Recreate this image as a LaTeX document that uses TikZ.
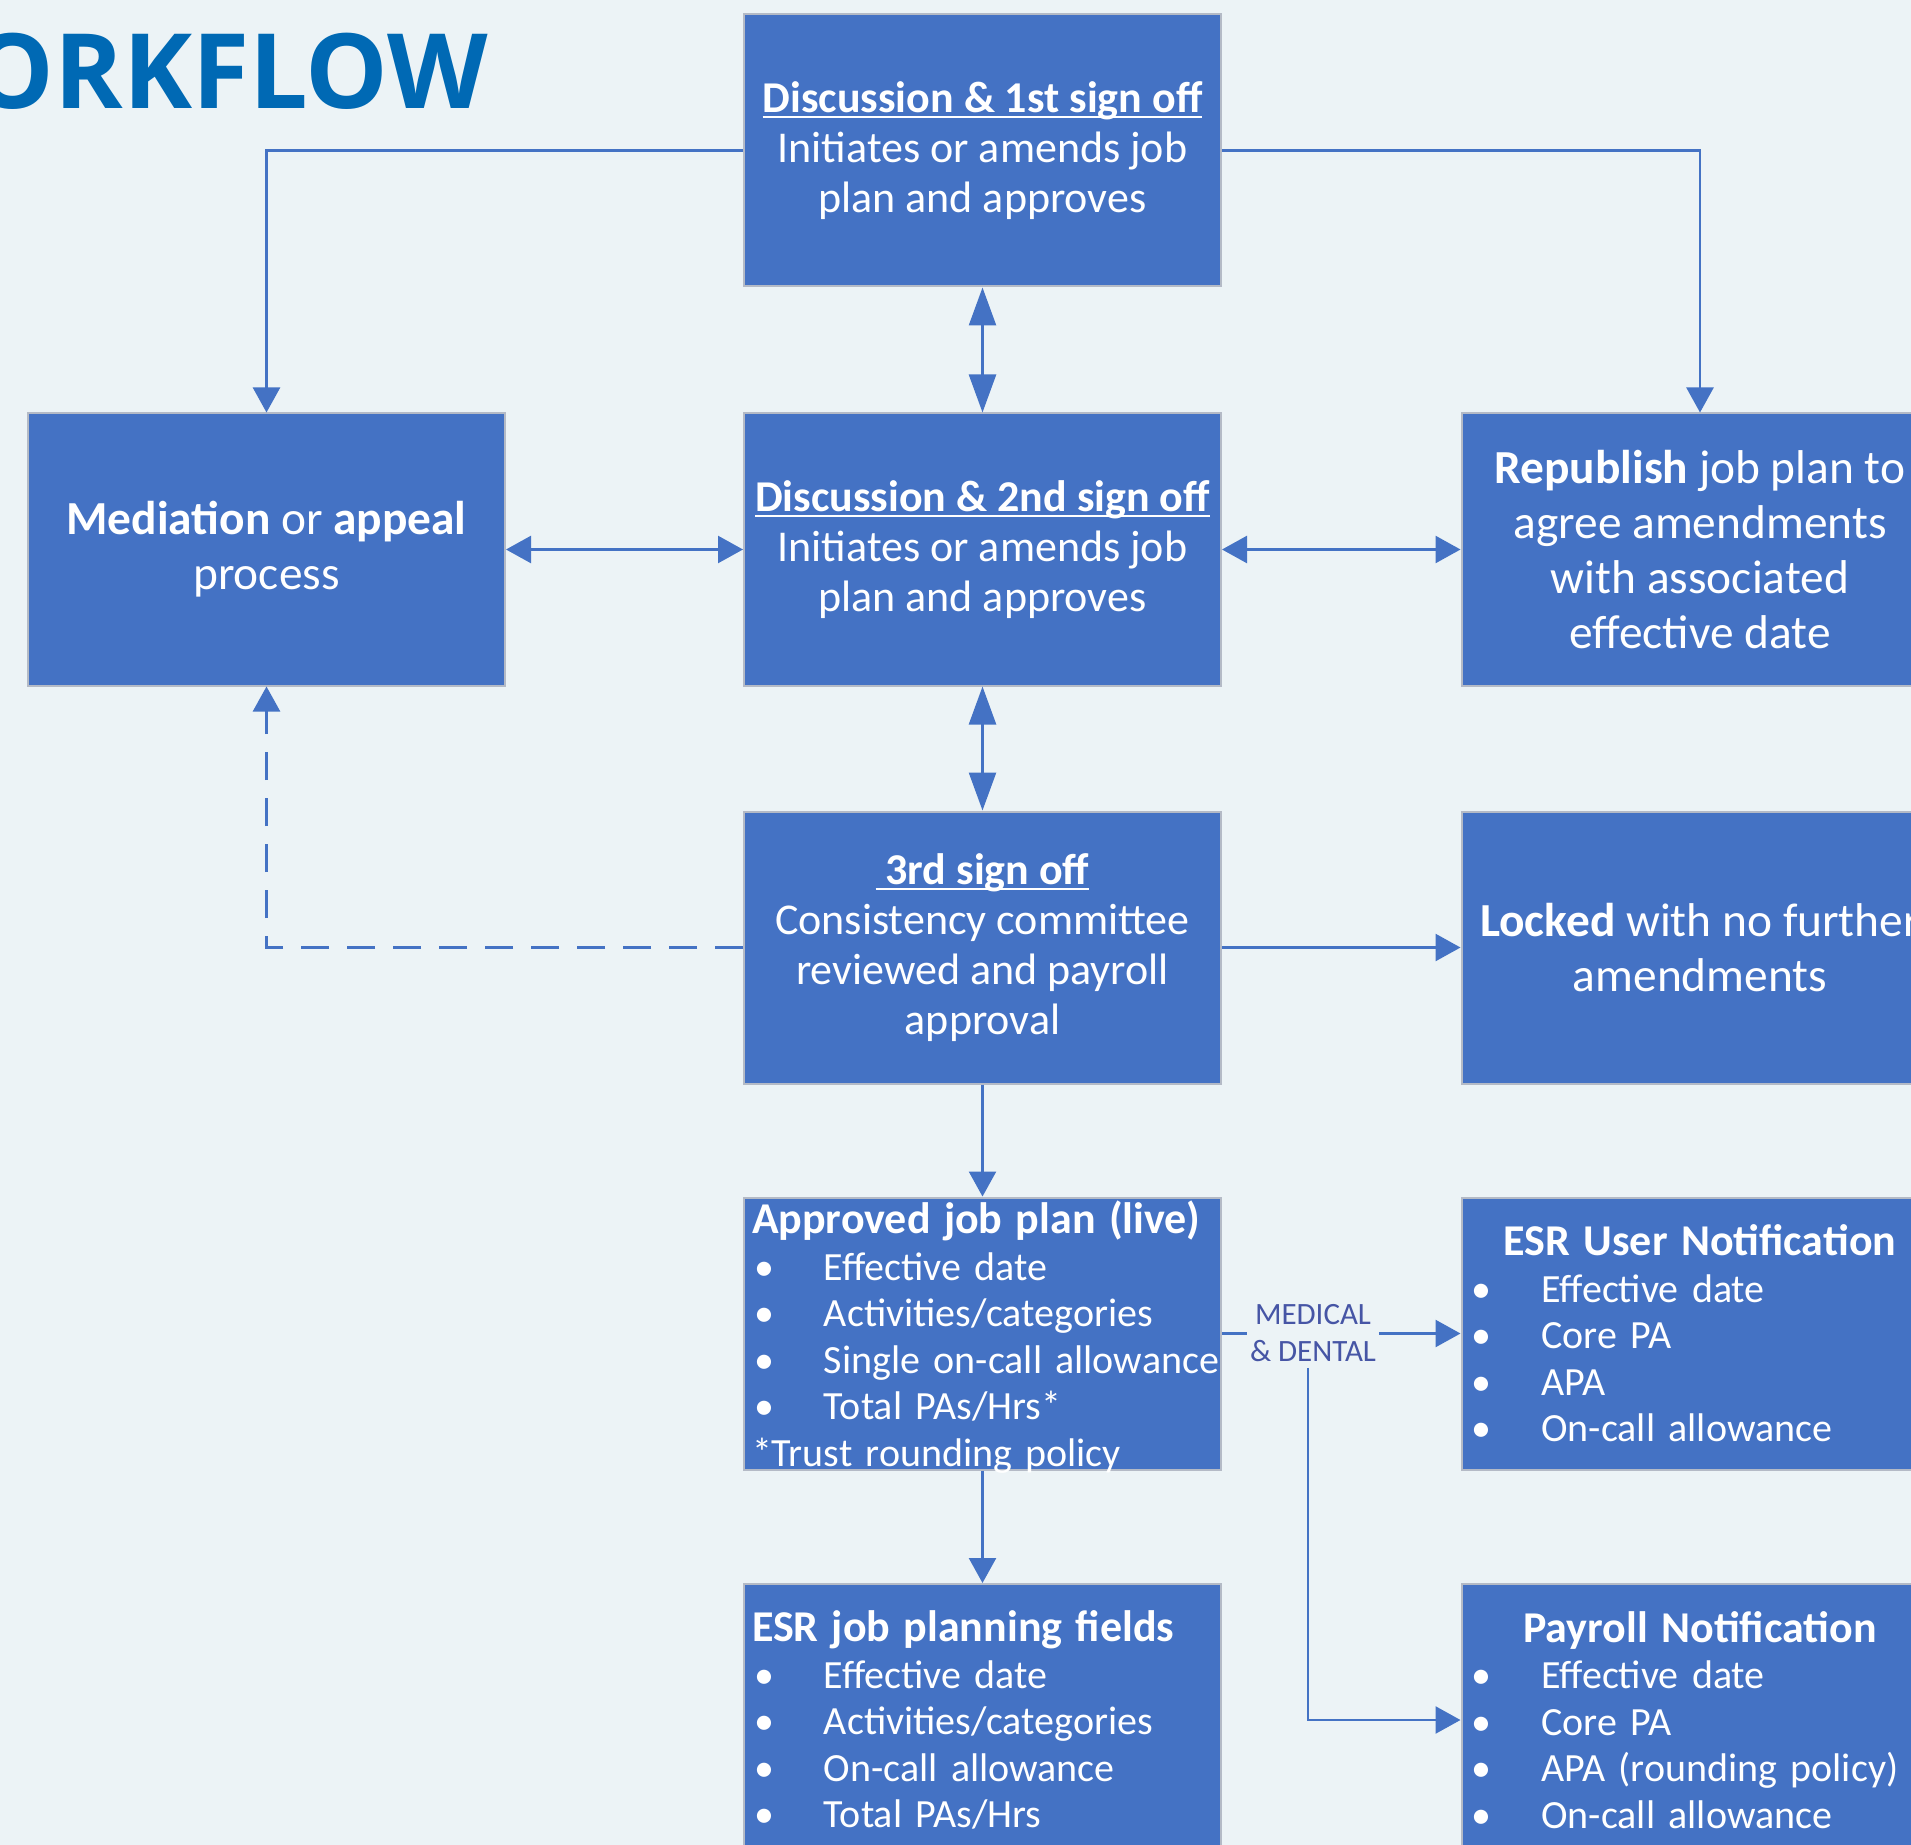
\documentclass[tikz,border=0pt]{standalone}
\usepackage{fontspec}
\setmainfont{Carlito}
\newfontfamily\titlefont{Open Sans}
\usetikzlibrary{arrows.meta}

\definecolor{pagebg}{RGB}{236,243,246}
\definecolor{boxblue}{RGB}{68,114,196}
\definecolor{boxedge}{RGB}{180,186,198}
\definecolor{titleblue}{RGB}{0,105,180}
\definecolor{lblblue}{RGB}{70,85,165}

\hfuzz=100pt
\newsavebox\hdrbox
\newcommand{\hdr}[1]{\sbox\hdrbox{\bfseries #1}\rlap{\usebox\hdrbox}\rule[-2.75pt]{\wd\hdrbox}{1.1pt}}
\newcommand{\bul}[1]{\makebox[36pt][l]{\hspace{1pt}\textbullet}\mbox{#1}}
\newcommand{\listhead}[1]{{\fontsize{22}{24}\selectfont\bfseries #1}}

\tikzset{every picture/.style={line width=0.75pt}}
\tikzset{
  blockbox/.style={draw=boxedge, line width=1pt, fill=boxblue, text=white,
    minimum width=238.5pt, minimum height=136pt, align=center, inner sep=4pt},
  signbox/.style={blockbox, font=\fontsize{22}{25}\selectfont},
  plainbox/.style={blockbox, font=\fontsize{23.7}{27.5}\selectfont},
  listbox/.style={blockbox, align=left, text width=230.5pt, inner ysep=0pt,
    font=\fontsize{20}{23.25}\selectfont},
  conn/.style={draw=boxblue, line width=1.25pt,
    >={Triangle[length=12.5pt,width=13.5pt]}},
  tall/.style={>={Triangle[length=19pt,width=13.5pt]}, <->},
  medlabel/.style={fill=pagebg, text=lblblue, align=center, inner xsep=1pt,
    inner ysep=2.5pt, font=\fontsize{15.5}{18.5}\selectfont}
}

\begin{document}
\begin{tikzpicture}[x=0.5pt,y=0.5pt,yscale=-1,xscale=1]
\path[use as bounding box, fill=pagebg] (0,0) rectangle (1911,1845);
\clip (0,0) rectangle (1911,1845);

% Text Node
\node[anchor=base east, inner sep=0pt, text=titleblue,
  font=\titlefont\fontsize{52}{52}\selectfont\bfseries] (wftitle) at (489,109) {ORKFLOW};

%Shape: Rectangle
\node[signbox] (sign1) at (982.5,150.5) {\hdr{Discussion \& 1st sign off}\\Initiates or amends job\\plan and approves};
%Shape: Rectangle
\node[plainbox] (mediation) at (266.5,549.5) {\textbf{Mediation} or \textbf{appeal}\\process};
%Shape: Rectangle
\node[signbox] (sign2) at (982.5,549.5) {\hdr{Discussion \& 2nd sign off}\\Initiates or amends job\\plan and approves};
%Shape: Rectangle
\node[plainbox] (republish) at (1700,549.5) {\textbf{Republish} job plan to\\agree amendments\\with associated\\effective date};
%Shape: Rectangle
\node[signbox] (sign3) at (982.5,947.5) {\hdr{\ 3rd sign off}\\Consistency committee\\reviewed and payroll\\approval};
%Shape: Rectangle
\node[plainbox] (locked) at (1700,947.5) {\textbf{Locked} with no further\\amendments};
%Shape: Rectangle
\node[listbox] (approved) at (982.5,1333.5) {\listhead{Approved job plan (live)}\\
  \bul{Effective date}\\
  \bul{Activities/categories}\\
  \bul{Single on-call allowance}\\
  \bul{Total PAs/Hrs*}\\
  \raisebox{0pt}[\height][0pt]{{*}Trust rounding policy}};
%Shape: Rectangle
\node[listbox] (esruser) at (1700,1333.5) {\makebox[230.5pt]{\listhead{ESR User Notification}}\\
  \bul{Effective date}\\
  \bul{Core PA}\\
  \bul{APA}\\
  \bul{On-call allowance}};
%Shape: Rectangle
\node[listbox] (esrfields) at (982.5,1720) {\listhead{ESR job planning fields}\\
  \bul{Effective date}\\
  \bul{Activities/categories}\\
  \bul{On-call allowance}\\
  \bul{Total PAs/Hrs}};
%Shape: Rectangle
\node[listbox] (payroll) at (1700,1720) {\makebox[230.5pt]{\listhead{Payroll Notification}}\\
  \bul{Effective date}\\
  \bul{Core PA}\\
  \bul{APA (rounding policy)}\\
  \bul{On-call allowance}};

% Text Node
\node[medlabel] (medlbl) at (1313,1333.5) {MEDICAL\\\& DENTAL};

%Straight Lines
\draw[conn, ->] (sign1) -| (mediation);
\draw[conn, ->] (sign1) -| (republish);
\draw[conn, tall] (sign1) -- (sign2);
\draw[conn, <->] (mediation) -- (sign2);
\draw[conn, <->] (sign2) -- (republish);
\draw[conn, tall] (sign2) -- (sign3);
\draw[conn, ->] (sign3) -- (locked);
\draw[conn, ->, dash pattern=on 14pt off 9pt] (sign3) -| (mediation);
\draw[conn, ->] (sign3) -- (approved);
\draw[conn, ->] (approved) -- (esrfields);
\draw[conn] (approved) -- (medlbl);
\draw[conn, ->] (medlbl) -- (esruser);
\draw[conn, ->] ([xshift=-2.5pt]medlbl.south) |- (payroll);

\end{tikzpicture}
\end{document}
